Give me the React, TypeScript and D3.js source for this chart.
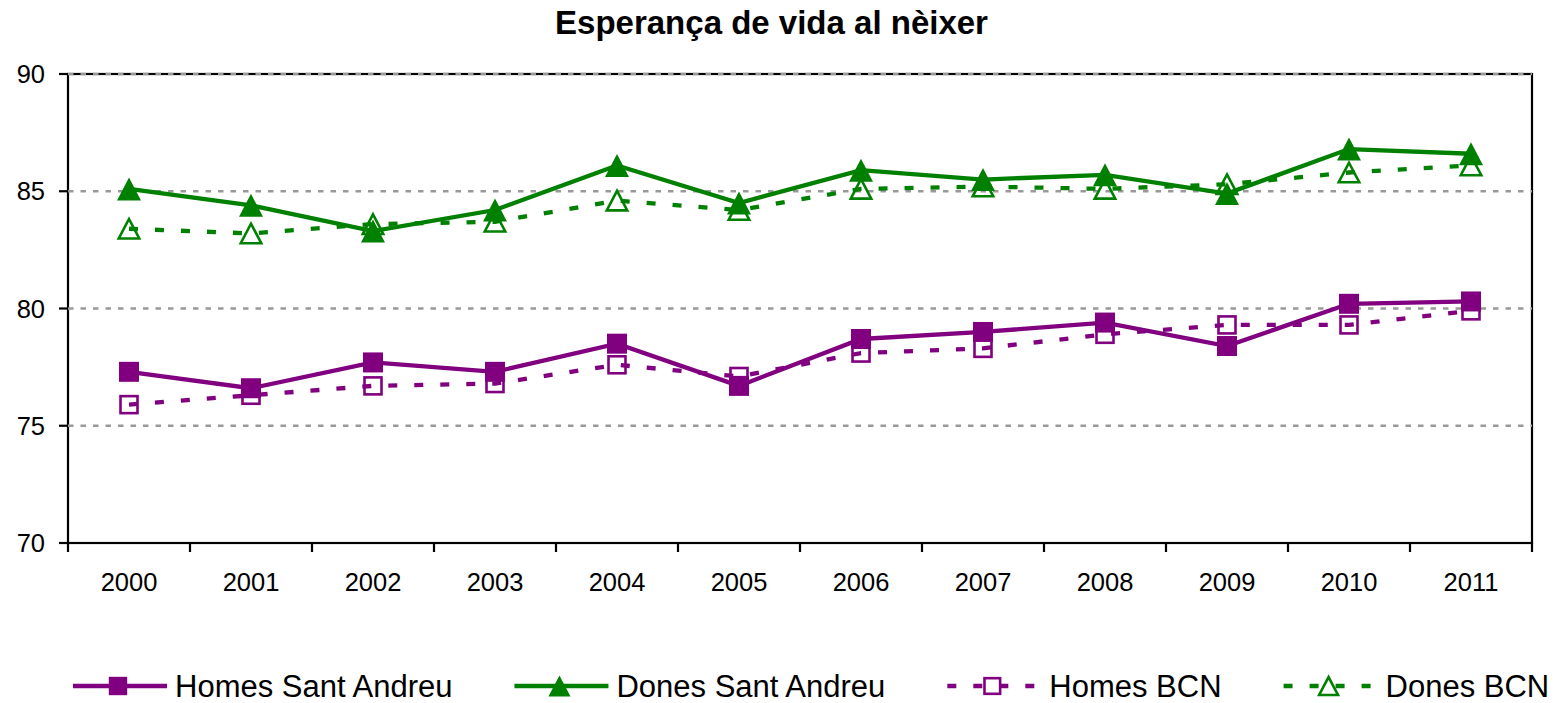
import { useEffect, useRef } from 'react';
import * as d3 from 'd3';

const years = ['2000', '2001', '2002', '2003', '2004', '2005', '2006', '2007', '2008', '2009', '2010', '2011'];
const homesSantAndreu = [77.3, 76.6, 77.7, 77.3, 78.5, 76.7, 78.7, 79.0, 79.4, 78.4, 80.2, 80.3];
const donesSantAndreu = [85.1, 84.4, 83.3, 84.2, 86.1, 84.5, 85.9, 85.5, 85.7, 84.9, 86.8, 86.6];
const homesBCN = [75.9, 76.3, 76.7, 76.8, 77.6, 77.1, 78.1, 78.3, 78.9, 79.3, 79.3, 79.9];
const donesBCN = [83.4, 83.2, 83.6, 83.7, 84.6, 84.2, 85.1, 85.2, 85.1, 85.3, 85.8, 86.1];
const yTicks = [70, 75, 80, 85, 90];
const title = 'Esperança de vida al nèixer';

const PURPLE = '#800080';
const GREEN = '#008000';
const FONT = '"Liberation Sans", Arial, Helvetica, sans-serif';

type Marker = 'square' | 'triangle';
interface Series { name: string; values: number[]; color: string; dashed: boolean; marker: Marker; filled: boolean }

// drawing order: BCN below, Sant Andreu on top
const series: Series[] = [
    { name: 'Homes BCN', values: homesBCN, color: PURPLE, dashed: true, marker: 'square', filled: false },
    { name: 'Dones BCN', values: donesBCN, color: GREEN, dashed: true, marker: 'triangle', filled: false },
    { name: 'Homes Sant Andreu', values: homesSantAndreu, color: PURPLE, dashed: false, marker: 'square', filled: true },
    { name: 'Dones Sant Andreu', values: donesSantAndreu, color: GREEN, dashed: false, marker: 'triangle', filled: true },
];
const legendOrder = ['Homes Sant Andreu', 'Dones Sant Andreu', 'Homes BCN', 'Dones BCN'];

const W = 1565;
const H = 703;
const margin = { top: 74, right: 33, bottom: 160, left: 68 };

function drawMarker(g: d3.Selection<SVGGElement, unknown, null, undefined>, s: Series, cx: number, cy: number, scale = 1) {
    if (s.marker === 'square') {
        const size = (s.filled ? 20 : 17) * scale;
        g.append('rect')
            .attr('x', cx - size / 2)
            .attr('y', cy - size / 2)
            .attr('width', size)
            .attr('height', size)
            .attr('fill', s.filled ? s.color : 'none')
            .attr('stroke', s.color)
            .attr('stroke-width', s.filled ? 0 : 2.6);
    } else {
        const w = (s.filled ? 24 : 20.5) * scale;
        const h = (s.filled ? 23 : 19.5) * scale;
        g.append('path')
            .attr('d', `M${cx},${cy - h / 2}L${cx + w / 2},${cy + h / 2}L${cx - w / 2},${cy + h / 2}Z`)
            .attr('fill', s.filled ? s.color : 'none')
            .attr('stroke', s.color)
            .attr('stroke-width', s.filled ? 0 : 2.6);
    }
}

function App() {
    const svgRef = useRef<SVGSVGElement>(null);

    useEffect(() => {
        if (!svgRef.current) return;
        const svg = d3.select(svgRef.current);
        svg.selectAll('*').remove();

        const innerW = W - margin.left - margin.right;
        const innerH = H - margin.top - margin.bottom;

        const x = d3.scaleBand<string>().domain(years).range([0, innerW]);
        const y = d3.scaleLinear().domain([70, 90]).range([innerH, 0]);
        const cx = (yr: string) => (x(yr) ?? 0) + x.bandwidth() / 2;

        svg.append('text')
            .attr('x', 771.5)
            .attr('y', 34)
            .attr('text-anchor', 'middle')
            .attr('font-family', FONT)
            .attr('font-size', 33)
            .attr('font-weight', 'bold')
            .text(title);

        const g = svg.append('g').attr('transform', `translate(${margin.left},${margin.top})`);

        // plot border
        g.append('rect')
            .attr('x', 0).attr('y', 0)
            .attr('width', innerW).attr('height', innerH)
            .attr('fill', 'none')
            .attr('stroke', '#000')
            .attr('stroke-width', 2.2);

        // grid
        g.selectAll('.grid')
            .data(yTicks.filter(t => t > 70))
            .enter()
            .append('line')
            .attr('x1', 0).attr('x2', innerW)
            .attr('y1', d => y(d)).attr('y2', d => y(d))
            .attr('stroke', '#999')
            .attr('stroke-width', 2.7)
            .attr('stroke-dasharray', '5.5,7');

        // y axis
        g.selectAll('.ytick')
            .data(yTicks)
            .enter()
            .append('line')
            .attr('x1', -9).attr('x2', 0)
            .attr('y1', d => y(d)).attr('y2', d => y(d))
            .attr('stroke', '#000')
            .attr('stroke-width', 2.2);
        g.selectAll('.ylabel')
            .data(yTicks)
            .enter()
            .append('text')
            .attr('x', -23)
            .attr('y', d => y(d) + 9)
            .attr('text-anchor', 'end')
            .attr('font-family', FONT)
            .attr('font-size', 25.5)
            .text(d => d);

        // x axis
        const bounds = [...years.map(yr => x(yr) ?? 0), innerW];
        g.selectAll('.xtick')
            .data(bounds)
            .enter()
            .append('line')
            .attr('x1', d => d).attr('x2', d => d)
            .attr('y1', innerH).attr('y2', innerH + 9)
            .attr('stroke', '#000')
            .attr('stroke-width', 2.2);
        g.selectAll('.xlabel')
            .data(years)
            .enter()
            .append('text')
            .attr('x', d => cx(d))
            .attr('y', innerH + 48)
            .attr('text-anchor', 'middle')
            .attr('font-family', FONT)
            .attr('font-size', 25.5)
            .text(d => d);

        const line = d3.line<number>()
            .x((_, i) => cx(years[i]))
            .y(d => y(d));

        series.forEach(s => {
            const sg = g.append('g');
            sg.append('path')
                .datum(s.values)
                .attr('d', line)
                .attr('fill', 'none')
                .attr('stroke', s.color)
                .attr('stroke-width', 4.3)
                .attr('stroke-dasharray', s.dashed ? '9,17' : null);
            s.values.forEach((v, i) => drawMarker(sg, s, cx(years[i]), y(v)));
        });

        // legend
        const legend = svg.append('g');
        const ly = 686;
        let lx = 73;
        legendOrder.forEach(name => {
            const s = series.find(d => d.name === name)!;
            const item = legend.append('g');
            item.append('line')
                .attr('x1', lx).attr('x2', lx + 94)
                .attr('y1', ly).attr('y2', ly)
                .attr('stroke', s.color)
                .attr('stroke-width', 4.3)
                .attr('stroke-dasharray', s.dashed ? '9,17' : null);
            drawMarker(item, s, lx + 45, ly, 0.92);
            const t = item.append('text')
                .attr('x', lx + 102)
                .attr('y', ly + 11)
                .attr('font-family', FONT)
                .attr('font-size', 31)
                .text(name);
            const tw = (t.node() as SVGTextElement).getComputedTextLength();
            lx = lx + 102 + tw + 62;
        });
    }, []);

    return (
        <svg ref={svgRef} width={W} height={H} style={{ position: 'absolute', left: 0, top: 0, background: '#fff' }}></svg>
    );
}

export default App;
